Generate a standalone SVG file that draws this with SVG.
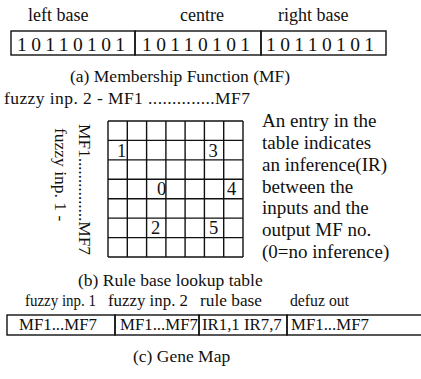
<svg xmlns="http://www.w3.org/2000/svg" width="421" height="379" viewBox="0 0 421 379">
  <style>
    text { font-family: "Liberation Serif", "Times New Roman", Times, serif; fill: #111; font-size: 17.5px; }
    .head { font-size: 18px; }
    .bits { font-size: 19.5px; letter-spacing: 4.4px; }
    .note { font-size: 19px; }
    .cell { font-size: 18.5px; }
    .glabel { font-size: 16.5px; }
    .gene { font-size: 16.8px; }
    .box { fill: none; stroke: #111; stroke-width: 1.4; }
    .grid line { stroke: #111; stroke-width: 1.4; }
  </style>
  <rect width="421" height="379" fill="#fff"/>

  <!-- (a) membership function chromosome: three 8-bit fields -->
  <g id="mf-labels">
    <text class="head" x="28" y="21">left base</text>
    <text class="head" x="180" y="21">centre</text>
    <text class="head" x="278" y="21">right base</text>
  </g>
  <g id="mf-left">
    <rect class="box" x="11" y="31" width="124" height="24"/>
    <text class="bits" x="17" y="51">10110101</text>
  </g>
  <g id="mf-centre">
    <rect class="box" x="135" y="31" width="126" height="24"/>
    <text class="bits" x="142" y="51">10110101</text>
  </g>
  <g id="mf-right">
    <rect class="box" x="261" y="31" width="125" height="24"/>
    <text class="bits" x="266" y="51">10110101</text>
  </g>
  <text id="caption-a" x="70" y="82">(a) Membership Function (MF)</text>

  <!-- (b) rule base lookup table, 7 x 7 -->
  <text id="axis-inp2" x="4" y="104" textLength="246" lengthAdjust="spacing">fuzzy inp. 2 - MF1 ..............MF7</text>
  <g id="axis-inp1">
    <text transform="translate(79,124) rotate(90)" textLength="131" lengthAdjust="spacing">MF1...............MF7</text>
    <text transform="translate(55,128) rotate(90)">fuzzy inp. 1 -</text>
  </g>
  <g id="rule-table" class="grid">
    <line x1="108" y1="121" x2="108" y2="257"/>
    <line x1="127.3" y1="121" x2="127.3" y2="257"/>
    <line x1="146.6" y1="121" x2="146.6" y2="257"/>
    <line x1="165.9" y1="121" x2="165.9" y2="257"/>
    <line x1="185.1" y1="121" x2="185.1" y2="257"/>
    <line x1="204.4" y1="121" x2="204.4" y2="257"/>
    <line x1="223.7" y1="121" x2="223.7" y2="257"/>
    <line x1="243" y1="121" x2="243" y2="257"/>
    <line x1="108" y1="121" x2="243" y2="121"/>
    <line x1="108" y1="140.4" x2="243" y2="140.4"/>
    <line x1="108" y1="159.9" x2="243" y2="159.9"/>
    <line x1="108" y1="179.3" x2="243" y2="179.3"/>
    <line x1="108" y1="198.7" x2="243" y2="198.7"/>
    <line x1="108" y1="218.1" x2="243" y2="218.1"/>
    <line x1="108" y1="237.6" x2="243" y2="237.6"/>
    <line x1="108" y1="257" x2="243" y2="257"/>
    <text class="cell" x="117" y="157">1</text>
    <text class="cell" x="208.5" y="157">3</text>
    <text class="cell" x="157" y="195">0</text>
    <text class="cell" x="227" y="195">4</text>
    <text class="cell" x="151" y="234">2</text>
    <text class="cell" x="209" y="234">5</text>
  </g>
  <g id="table-note">
    <text class="note" x="262" y="127">An entry in the</text>
    <text class="note" x="262" y="149">table indicates</text>
    <text class="note" x="262" y="171">an inference(IR)</text>
    <text class="note" x="262" y="193">between the</text>
    <text class="note" x="262" y="214">inputs and the</text>
    <text class="note" x="262" y="236">output MF no.</text>
    <text class="note" x="262" y="258">(0=no inference)</text>
  </g>
  <text id="caption-b" x="78" y="286">(b) Rule base lookup table</text>

  <!-- (c) gene map: four consecutive fields -->
  <g id="gene-labels">
    <text class="glabel" x="25" y="306" textLength="71" lengthAdjust="spacingAndGlyphs">fuzzy inp. 1</text>
    <text class="glabel" x="108" y="306" textLength="80" lengthAdjust="spacingAndGlyphs">fuzzy inp. 2</text>
    <text class="glabel" x="200" y="306" textLength="62" lengthAdjust="spacingAndGlyphs">rule base</text>
    <text class="glabel" x="290" y="306" textLength="59" lengthAdjust="spacingAndGlyphs">defuz out</text>
  </g>
  <g id="gene-inp1">
    <rect class="box" x="7" y="315" width="108" height="20"/>
    <text class="gene" x="19" y="330">MF1...MF7</text>
  </g>
  <g id="gene-inp2">
    <rect class="box" x="115" y="315" width="84" height="20"/>
    <text class="gene" x="120" y="330">MF1...MF7</text>
  </g>
  <g id="gene-rules">
    <rect class="box" x="199" y="315" width="88" height="20"/>
    <text class="gene" x="202" y="330">IR1,1 IR7,7</text>
  </g>
  <g id="gene-defuz">
    <rect class="box" x="287" y="315" width="140" height="20"/>
    <text class="gene" x="291" y="330">MF1...MF7</text>
  </g>
  <text id="caption-c" x="133" y="362">(c) Gene Map</text>
</svg>
